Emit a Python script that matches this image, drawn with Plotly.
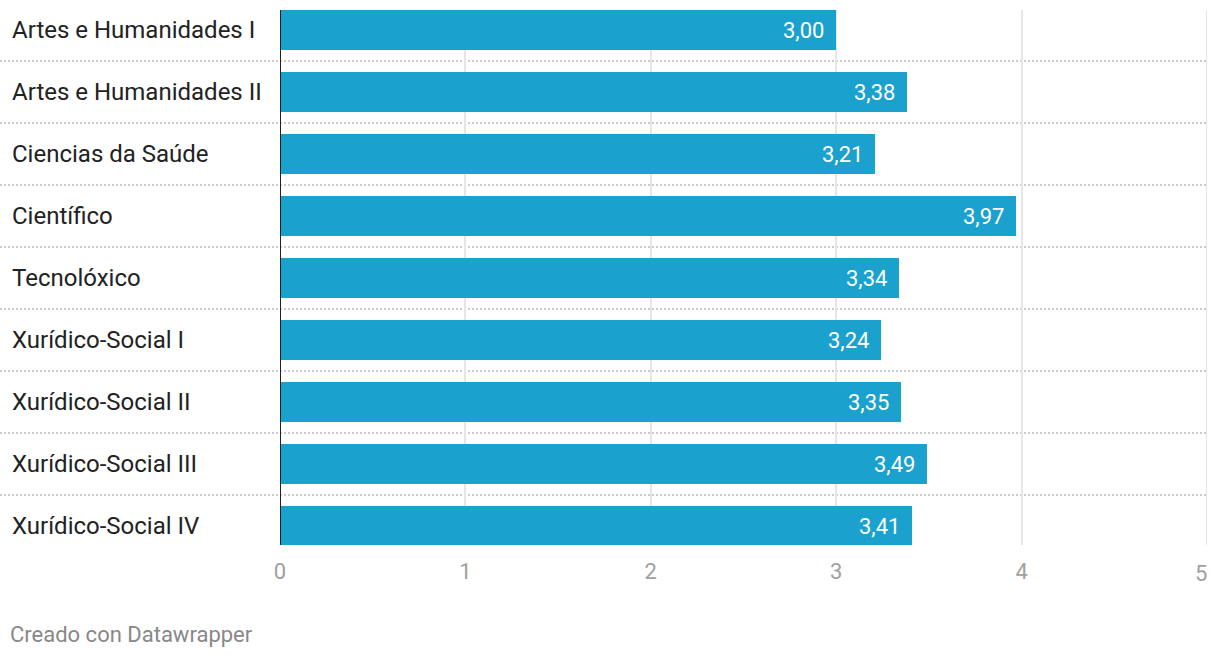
import plotly.graph_objects as go

categories = [
    "Artes e Humanidades I",
    "Artes e Humanidades II",
    "Ciencias da Saúde",
    "Científico",
    "Tecnolóxico",
    "Xurídico-Social I",
    "Xurídico-Social II",
    "Xurídico-Social III",
    "Xurídico-Social IV",
]
values = [3.00, 3.38, 3.21, 3.97, 3.34, 3.24, 3.35, 3.49, 3.41]
tick_vals = [0, 1, 2, 3, 4, 5]

W, H = 1220, 658
ML, MR, MT, MB = 280, 13, 10, 113
plot_w = W - ML - MR
plot_h = H - MT - MB

rows = list(range(len(categories)))

fig = go.Figure()

fig.add_trace(go.Bar(
    x=values,
    y=rows,
    orientation="h",
    width=0.645,
    marker=dict(color="#1ba1cd", line=dict(width=0)),
    hoverinfo="skip",
    showlegend=False,
))

# dotted row separators, from the label column to the right edge
for i in range(len(categories) - 1):
    fig.add_shape(
        type="line", xref="paper", yref="y",
        x0=-ML / plot_w, x1=1, y0=i + 0.5, y1=i + 0.5,
        line=dict(color="#cccccc", width=2, dash="2px,2px"),
        layer="below",
    )

# plotly skips the gridline sitting on the plot edge, so draw it
fig.add_shape(
    type="line", xref="x", yref="paper",
    x0=tick_vals[-1], x1=tick_vals[-1], y0=0, y1=1,
    line=dict(color="#e6e6e6", width=2),
    layer="below",
)

# zero line
fig.add_shape(
    type="line", xref="x", yref="paper",
    x0=0, x1=0, y0=0, y1=1,
    line=dict(color="#222222", width=2),
)

# category labels
for i, name in enumerate(categories):
    fig.add_annotation(
        x=-ML / plot_w + 10 / plot_w, xref="paper", xanchor="left",
        y=i, yref="y", yanchor="middle",
        text=name, showarrow=False,
        font=dict(family="Roboto", size=24, color="#222222"),
    )

# value labels inside the bars
for i, v in enumerate(values):
    fig.add_annotation(
        x=v, xref="x", xanchor="right", xshift=-10,
        y=i, yref="y", yanchor="middle",
        text=f"{v:.2f}".replace(".", ","), showarrow=False,
        font=dict(family="Roboto", size=22, color="#ffffff"),
    )

# last tick label sits flush right against its gridline
fig.add_annotation(
    x=tick_vals[-1], xref="x", xanchor="right", xshift=2,
    y=-(573 - (H - MB)) / plot_h, yref="paper", yanchor="middle",
    text=str(tick_vals[-1]), showarrow=False,
    font=dict(family="Roboto", size=22, color="#a0a0a0"),
)

fig.add_annotation(
    x=-ML / plot_w + 8 / plot_w, xref="paper", xanchor="left",
    y=-(634 - (H - MB)) / plot_h, yref="paper", yanchor="middle",
    text="Creado con Datawrapper", showarrow=False,
    font=dict(family="Roboto", size=22, color="#888888"),
)

fig.update_layout(
    width=W, height=H,
    margin=dict(l=ML, r=MR, t=MT, b=MB, autoexpand=False),
    paper_bgcolor="white", plot_bgcolor="white",
    bargap=0,
    font=dict(family="Roboto"),
    xaxis=dict(
        range=[0, 5], tickvals=tick_vals,
        ticktext=[str(t) for t in tick_vals[:-1]] + [""],
        showgrid=True, gridcolor="#e6e6e6", gridwidth=2,
        zeroline=False, showline=False, automargin=False,
        ticks="outside", ticklen=7, tickcolor="rgba(0,0,0,0)",
        tickfont=dict(family="Roboto", size=22, color="#a0a0a0"),
        fixedrange=True,
    ),
    yaxis=dict(
        range=[8 + 19 / 62, -20 / 62],
        showgrid=False, zeroline=False, showline=False, automargin=False,
        showticklabels=False, ticks="",
        fixedrange=True,
    ),
)

fig.write_html(
    "out.html",
    config={"displayModeBar": False},
    post_script="document.body.style.margin='0';",
)
